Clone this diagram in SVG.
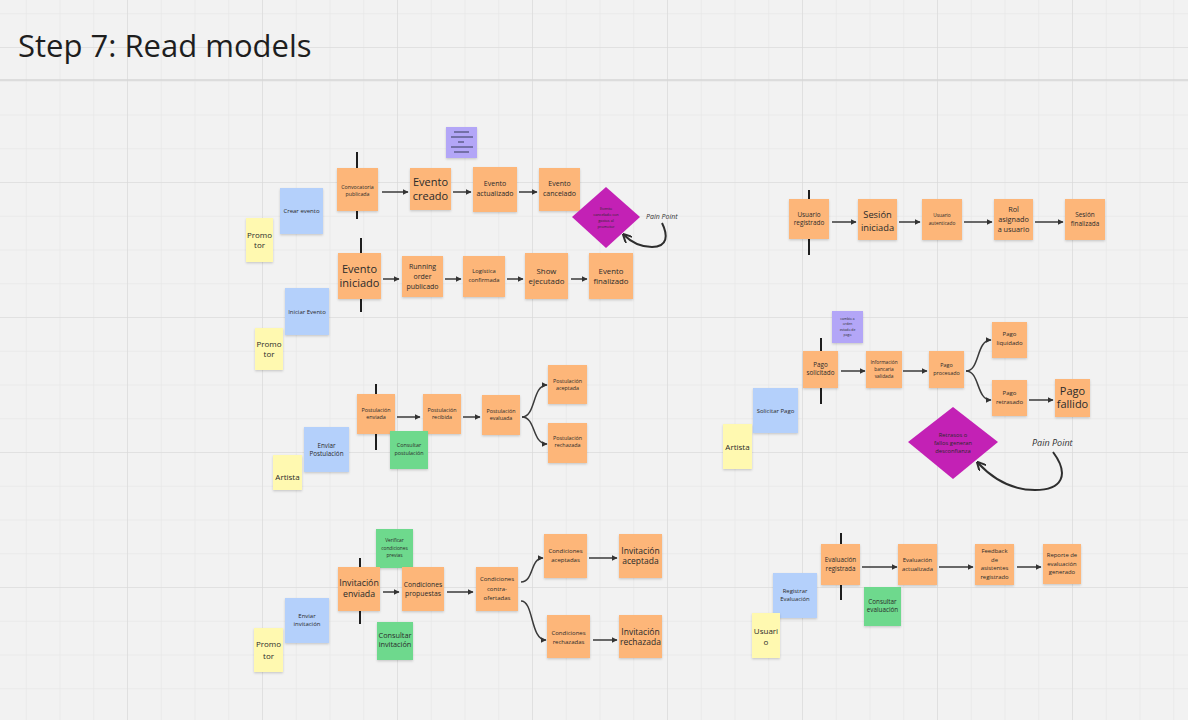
<svg xmlns="http://www.w3.org/2000/svg" width="1188" height="720" viewBox="0 0 1188 720">
<style>
.o{fill:#fdb679}
.b{fill:#b4d0fb}
.g{fill:#6ed98d}
.y{fill:#fff9b0}
.p{fill:#b3a6f7}
.d{fill:#c321b5}
.s{filter:url(#sh)}
text{font-family:"Open Sans","Liberation Sans",sans-serif;fill:#2a2a2a;text-anchor:middle}
.ttl{text-anchor:start;font-size:31px;fill:#1e1e1e}
text.pp{font-style:italic;text-anchor:start;fill:#333}
.bar{stroke:#1e1e1e;stroke-width:2}
.ar{fill:none;stroke:#3a3a3a;stroke-width:1.5;marker-end:url(#ah)}
.pa{fill:none;stroke:#2e2e2e;stroke-width:2;marker-end:url(#ah2)}
.ic{stroke:#52527e;stroke-width:1.3}
</style>
<defs>
<pattern id="minor" x="-8" y="47" width="33.75" height="33.75" patternUnits="userSpaceOnUse">
<path d="M0,0H33.75M0,0V33.75" fill="none" stroke="#e3e3e3" stroke-width="1"/>
</pattern>
<pattern id="major" x="-8" y="47" width="135" height="135" patternUnits="userSpaceOnUse">
<path d="M0,0H135M0,0V135" fill="none" stroke="#d8d8d8" stroke-width="1.2"/>
</pattern>
<filter id="sh" x="-20%" y="-20%" width="140%" height="150%">
<feDropShadow dx="0" dy="1.2" stdDeviation="0.9" flood-color="#000" flood-opacity="0.18"/>
</filter>
<marker id="ah" viewBox="0 0 10 10" refX="9" refY="5" markerWidth="6" markerHeight="6" orient="auto" markerUnits="userSpaceOnUse">
<path d="M0,0L10,5L0,10z" fill="#333"/>
</marker>
<marker id="ah2" viewBox="0 0 10 10" refX="8" refY="5" markerWidth="9" markerHeight="9" orient="auto" markerUnits="userSpaceOnUse">
<path d="M0,0L10,5L0,10" fill="none" stroke="#2e2e2e" stroke-width="2.2"/>
</marker>
</defs>
<rect width="1188" height="720" fill="#f2f2f2"/>
<rect width="1188" height="720" fill="url(#minor)"/>
<rect width="1188" height="720" fill="url(#major)"/>
<line x1="0" y1="80" x2="1188" y2="80" stroke="#d6d6d6" stroke-width="1.4"/>
<text class="ttl" x="18" y="57">Step 7: Read models</text>

<g id="connectors">
<line class="bar" x1="357" y1="152" x2="357" y2="168"/>
<line class="bar" x1="357" y1="211" x2="357" y2="219"/>
<line class="bar" x1="361" y1="238" x2="361" y2="253"/>
<line class="bar" x1="361" y1="299" x2="361" y2="312"/>
<line class="bar" x1="376" y1="384" x2="376" y2="394"/>
<line class="bar" x1="376" y1="434" x2="376" y2="450"/>
<line class="bar" x1="360" y1="558" x2="360" y2="567"/>
<line class="bar" x1="360" y1="611" x2="360" y2="624"/>
<line class="bar" x1="809" y1="190" x2="809" y2="199"/>
<line class="bar" x1="809" y1="239" x2="809" y2="255"/>
<line class="bar" x1="821" y1="338" x2="821" y2="351"/>
<line class="bar" x1="821" y1="388" x2="821" y2="404"/>
<line class="bar" x1="841" y1="533" x2="841" y2="544"/>
<line class="bar" x1="841" y1="585" x2="841" y2="600"/>

<path class="ar" d="M382,192H408"/>
<path class="ar" d="M453,192H471"/>
<path class="ar" d="M519,192H537"/>
<path class="ar" d="M383,279H399"/>
<path class="ar" d="M445,279H461"/>
<path class="ar" d="M507,279H523"/>
<path class="ar" d="M571,279H587"/>
<path class="ar" d="M397,417H420"/>
<path class="ar" d="M463,417H480"/>
<path class="ar" d="M522,417C536,417 532,385 547,385"/>
<path class="ar" d="M522,417C536,417 532,444 547,444"/>
<path class="ar" d="M383,592H399"/>
<path class="ar" d="M447,592H473"/>
<path class="ar" d="M521,582C534,582 530,558 543,558"/>
<path class="ar" d="M521,601C534,601 530,640 546,640"/>
<path class="ar" d="M589,558H617"/>
<path class="ar" d="M593,640H617"/>
<path class="ar" d="M832,222H856"/>
<path class="ar" d="M899,222H920"/>
<path class="ar" d="M964,222H992"/>
<path class="ar" d="M1035,222H1063"/>
<path class="ar" d="M841,371H865"/>
<path class="ar" d="M903,371H927"/>
<path class="ar" d="M966,371C980,371 976,340 991,340"/>
<path class="ar" d="M966,371C980,371 976,400 991,400"/>
<path class="ar" d="M1029,400H1053"/>
<path class="ar" d="M862,567H897"/>
<path class="ar" d="M939,567H973"/>
<path class="ar" d="M1017,567H1041"/>
<path class="pa" d="M662,223C668,235 668,247 652,247C640,247 631,242 624,235"/>
<path class="pa" d="M1053,452C1070,475 1062,490 1035,490C1010,490 992,478 978,463"/>
</g>

<g id="icon-note">
<rect class="p s" x="446" y="127" width="31" height="31"/>
<line class="ic" x1="454" y1="132" x2="469" y2="132"/>
<line class="ic" x1="451" y1="137" x2="473" y2="137"/>
<line class="ic" x1="458" y1="142" x2="464" y2="142"/>
<line class="ic" x1="451" y1="147" x2="473" y2="147"/>
<line class="ic" x1="454" y1="152" x2="469" y2="152"/>
</g>

<g id="crear-evento"><rect class="b s" x="280" y="188" width="43" height="46"/><text x="301.5" y="213" font-size="6">Crear evento</text></g>
<g id="promotor-1"><rect class="y s" x="246" y="218" width="27" height="44"/><text x="259.5" y="238" font-size="8">Promo</text><text x="259.5" y="248" font-size="8">tor</text></g>
<g id="convocatoria-publicada"><rect class="o s" x="337" y="168" width="41" height="43"/><text x="357.5" y="188.5" font-size="5.3">Convocatoria</text><text x="357.5" y="195.5" font-size="5.3">publicada</text></g>
<g id="evento-creado"><rect class="o s" x="410" y="168" width="41" height="42"/><text x="430.5" y="186" font-size="11">Evento</text><text x="430.5" y="200" font-size="11">creado</text></g>
<g id="evento-actualizado"><rect class="o s" x="473" y="167" width="44" height="45"/><text x="495" y="186" font-size="7">Evento</text><text x="495" y="195.5" font-size="7">actualizado</text></g>
<g id="evento-cancelado"><rect class="o s" x="539" y="168" width="41" height="43"/><text x="559.5" y="186" font-size="7">Evento</text><text x="559.5" y="195.5" font-size="7">cancelado</text></g>
<g id="pain-cancelado"><polygon class="d" points="606,187 640,217 606,248 572,217"/><text x="606" y="209.5" font-size="3.8">Evento</text><text x="606" y="215.5" font-size="3.8">cancelado con</text><text x="606" y="221.5" font-size="3.8">gastos al</text><text x="606" y="227.5" font-size="3.8">promotor</text></g>
<g id="pain-point-1"><text class="pp" x="646" y="219" font-size="7">Pain Point</text></g>

<g id="evento-iniciado"><rect class="o s" x="338" y="253" width="43" height="46"/><text x="359.5" y="273" font-size="11">Evento</text><text x="359.5" y="286.5" font-size="11">iniciado</text></g>
<g id="running-order"><rect class="o s" x="402" y="256" width="41" height="41"/><text x="422.5" y="269" font-size="7">Running</text><text x="422.5" y="279" font-size="7">order</text><text x="422.5" y="289" font-size="7">publicado</text></g>
<g id="logistica-confirmada"><rect class="o s" x="463" y="256" width="42" height="41"/><text x="484" y="273" font-size="5.8">Logística</text><text x="484" y="282" font-size="5.8">confirmada</text></g>
<g id="show-ejecutado"><rect class="o s" x="525" y="253" width="43" height="46"/><text x="546.5" y="274" font-size="7.8">Show</text><text x="546.5" y="284" font-size="7.8">ejecutado</text></g>
<g id="evento-finalizado"><rect class="o s" x="589" y="253" width="44" height="46"/><text x="611" y="274" font-size="7.8">Evento</text><text x="611" y="284" font-size="7.8">finalizado</text></g>
<g id="iniciar-evento"><rect class="b s" x="285" y="288" width="44" height="47"/><text x="307" y="313.5" font-size="6">Iniciar Evento</text></g>
<g id="promotor-2"><rect class="y s" x="255" y="328" width="28" height="42"/><text x="269" y="347" font-size="8">Promo</text><text x="269" y="357" font-size="8">tor</text></g>

<g id="postulacion-enviada"><rect class="o s" x="357" y="394" width="38" height="40"/><text x="376" y="412" font-size="5.4">Postulación</text><text x="376" y="419" font-size="5.4">enviada</text></g>
<g id="postulacion-recibida"><rect class="o s" x="423" y="394" width="38" height="40"/><text x="442" y="412" font-size="5.4">Postulación</text><text x="442" y="419" font-size="5.4">recibida</text></g>
<g id="postulacion-evaluada"><rect class="o s" x="482" y="395" width="38" height="40"/><text x="501" y="413" font-size="5.4">Postulación</text><text x="501" y="420" font-size="5.4">evaluada</text></g>
<g id="postulacion-aceptada"><rect class="o s" x="548" y="365" width="39" height="39"/><text x="567.5" y="383" font-size="5.4">Postulación</text><text x="567.5" y="390" font-size="5.4">aceptada</text></g>
<g id="postulacion-rechazada"><rect class="o s" x="548" y="423" width="39" height="40"/><text x="567.5" y="440" font-size="5.4">Postulación</text><text x="567.5" y="447" font-size="5.4">rechazada</text></g>
<g id="consultar-postulacion"><rect class="g s" x="390" y="431" width="38" height="38"/><text x="409" y="447" font-size="5.4">Consultar</text><text x="409" y="455" font-size="5.4">postulación</text></g>
<g id="enviar-postulacion"><rect class="b s" x="304" y="427" width="45" height="45"/><text x="326.5" y="447.5" font-size="6.3">Enviar</text><text x="326.5" y="455.5" font-size="6.3">Postulación</text></g>
<g id="artista-1"><rect class="y s" x="273" y="455" width="29" height="35"/><text x="287.5" y="480" font-size="8">Artista</text></g>

<g id="verificar-condiciones"><rect class="g s" x="376" y="529" width="37" height="39"/><text x="394.5" y="542" font-size="4.8">Verificar</text><text x="394.5" y="549.5" font-size="4.8">condiciones</text><text x="394.5" y="557" font-size="4.8">previas</text></g>
<g id="invitacion-enviada"><rect class="o s" x="338" y="567" width="42" height="44"/><text x="359" y="586" font-size="8.8">Invitación</text><text x="359" y="597" font-size="8.8">enviada</text></g>
<g id="condiciones-propuestas"><rect class="o s" x="402" y="567" width="42" height="44"/><text x="423" y="586.5" font-size="6.8">Condiciones</text><text x="423" y="595.5" font-size="6.8">propuestas</text></g>
<g id="condiciones-contraofertadas"><rect class="o s" x="476" y="567" width="42" height="44"/><text x="497" y="581" font-size="6">Condiciones</text><text x="497" y="591" font-size="6">contra-</text><text x="497" y="600" font-size="6">ofertadas</text></g>
<g id="condiciones-aceptadas"><rect class="o s" x="544" y="534" width="43" height="44"/><text x="565.5" y="553" font-size="6">Condiciones</text><text x="565.5" y="562" font-size="6">aceptadas</text></g>
<g id="invitacion-aceptada"><rect class="o s" x="619" y="534" width="43" height="44"/><text x="640.5" y="554" font-size="8.5">Invitación</text><text x="640.5" y="564" font-size="8.5">aceptada</text></g>
<g id="condiciones-rechazadas"><rect class="o s" x="547" y="615" width="43" height="43"/><text x="568.5" y="635" font-size="6">Condiciones</text><text x="568.5" y="644" font-size="6">rechazadas</text></g>
<g id="invitacion-rechazada"><rect class="o s" x="619" y="615" width="43" height="43"/><text x="640.5" y="635" font-size="8.5">Invitación</text><text x="640.5" y="645" font-size="8.5">rechazada</text></g>
<g id="consultar-invitacion"><rect class="g s" x="377" y="622" width="36" height="38"/><text x="395" y="638" font-size="7.3">Consultar</text><text x="395" y="647" font-size="7.3">invitación</text></g>
<g id="enviar-invitacion"><rect class="b s" x="285" y="598" width="44" height="45"/><text x="307" y="618" font-size="6">Enviar</text><text x="307" y="626" font-size="6">invitación</text></g>
<g id="promotor-3"><rect class="y s" x="254" y="628" width="29" height="44"/><text x="268.5" y="647" font-size="8">Promo</text><text x="268.5" y="659" font-size="8">tor</text></g>

<g id="usuario-registrado"><rect class="o s" x="789" y="199" width="40" height="40"/><text x="809" y="217" font-size="6.4">Usuario</text><text x="809" y="225" font-size="6.4">registrado</text></g>
<g id="sesion-iniciada"><rect class="o s" x="858" y="199" width="39" height="41"/><text x="877.5" y="217.5" font-size="9.3">Sesión</text><text x="877.5" y="230.5" font-size="9.3">iniciada</text></g>
<g id="usuario-autenticado"><rect class="o s" x="922" y="199" width="40" height="41"/><text x="942" y="217" font-size="4.8">Usuario</text><text x="942" y="225" font-size="4.8">autenticado</text></g>
<g id="rol-asignado"><rect class="o s" x="994" y="199" width="39" height="41"/><text x="1013.5" y="212" font-size="7.3">Rol</text><text x="1013.5" y="222" font-size="7.3">asignado</text><text x="1013.5" y="232" font-size="7.3">a usuario</text></g>
<g id="sesion-finalizada"><rect class="o s" x="1065" y="199" width="40" height="41"/><text x="1085" y="217" font-size="6.4">Sesión</text><text x="1085" y="226" font-size="6.4">finalizada</text></g>

<g id="nota-pago"><rect class="p s" x="832" y="311" width="31" height="32"/><text x="847.5" y="319.5" font-size="3.4">cambio a</text><text x="847.5" y="325" font-size="3.4">orden</text><text x="847.5" y="330.5" font-size="3.4">estado de</text><text x="847.5" y="336" font-size="3.4">pago</text></g>
<g id="pago-solicitado"><rect class="o s" x="803" y="351" width="35" height="37"/><text x="820.5" y="367" font-size="6.3">Pago</text><text x="820.5" y="375" font-size="6.3">solicitado</text></g>
<g id="info-bancaria"><rect class="o s" x="866" y="351" width="36" height="37"/><text x="884" y="364" font-size="4.8">Información</text><text x="884" y="371" font-size="4.8">bancaria</text><text x="884" y="378" font-size="4.8">validada</text></g>
<g id="pago-procesado"><rect class="o s" x="929" y="351" width="35" height="37"/><text x="946.5" y="367" font-size="5.4">Pago</text><text x="946.5" y="375" font-size="5.4">procesado</text></g>
<g id="pago-liquidado"><rect class="o s" x="992" y="322" width="35" height="36"/><text x="1009.5" y="336" font-size="6">Pago</text><text x="1009.5" y="345" font-size="6">liquidado</text></g>
<g id="pago-retrasado"><rect class="o s" x="992" y="380" width="35" height="36"/><text x="1009.5" y="395" font-size="6">Pago</text><text x="1009.5" y="404" font-size="6">retrasado</text></g>
<g id="pago-fallido"><rect class="o s" x="1055" y="379" width="35" height="38"/><text x="1072.5" y="395" font-size="11">Pago</text><text x="1072.5" y="408" font-size="11">fallido</text></g>
<g id="solicitar-pago"><rect class="b s" x="753" y="388" width="45" height="45"/><text x="775.5" y="412.5" font-size="6">Solicitar Pago</text></g>
<g id="artista-2"><rect class="y s" x="723" y="424" width="29" height="45"/><text x="737.5" y="449.5" font-size="8">Artista</text></g>
<g id="pain-pago"><polygon class="d" points="953,407 998,442 953,479 908,442"/><text x="953" y="437" font-size="5.8">Retrasos o</text><text x="953" y="444.5" font-size="5.8">fallos generan</text><text x="953" y="453" font-size="5.8">desconfianza</text></g>
<g id="pain-point-2"><text class="pp" x="1032" y="446" font-size="9">Pain Point</text></g>

<g id="evaluacion-registrada"><rect class="o s" x="821" y="544" width="39" height="41"/><text x="840.5" y="562" font-size="6.3">Evaluación</text><text x="840.5" y="570.5" font-size="6.3">registrada</text></g>
<g id="evaluacion-actualizada"><rect class="o s" x="898" y="544" width="39" height="41"/><text x="917.5" y="562" font-size="5.9">Evaluación</text><text x="917.5" y="570.5" font-size="5.9">actualizada</text></g>
<g id="feedback-asistentes"><rect class="o s" x="975" y="544" width="39" height="41"/><text x="994.5" y="553" font-size="5.9">Feedback</text><text x="994.5" y="561.5" font-size="5.9">de</text><text x="994.5" y="570" font-size="5.9">asistentes</text><text x="994.5" y="578.5" font-size="5.9">registrado</text></g>
<g id="reporte-evaluacion"><rect class="o s" x="1043" y="544" width="38" height="40"/><text x="1062" y="557" font-size="5.9">Reporte de</text><text x="1062" y="565.5" font-size="5.9">evaluación</text><text x="1062" y="574" font-size="5.9">generado</text></g>
<g id="consultar-evaluacion"><rect class="g s" x="864" y="587" width="37" height="39"/><text x="882.5" y="604" font-size="6.3">Consultar</text><text x="882.5" y="612" font-size="6.3">evaluación</text></g>
<g id="registrar-evaluacion"><rect class="b s" x="773" y="573" width="44" height="45"/><text x="795" y="593" font-size="5.9">Registrar</text><text x="795" y="601" font-size="5.9">Evaluación</text></g>
<g id="usuario-actor"><rect class="y s" x="752" y="613" width="28" height="45"/><text x="766" y="634" font-size="8">Usuari</text><text x="766" y="645" font-size="8">o</text></g>
</svg>
